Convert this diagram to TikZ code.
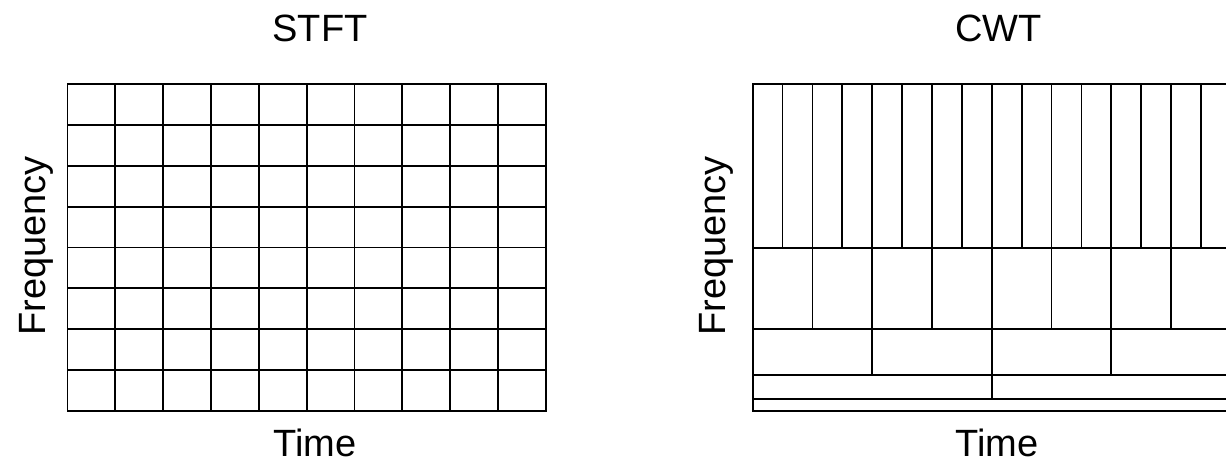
\documentclass[tikz,border=0pt]{standalone}
\usepackage{fontspec}
\setmainfont{Liberation Sans}
\usepackage{tikz}
\definecolor{ink}{HTML}{000000}

\begin{document}
\begin{tikzpicture}[x=1pt,y=1pt,
  cell/.style={ink,line width=1.8pt},
  lbl/.style={ink,font=\fontsize{38}{40}\selectfont,inner sep=0pt,anchor=base}]
  \useasboundingbox (0,0) rectangle (1226,463);
  \clip (0,0) rectangle (1226,463);
  % STFT: same window everywhere, 10 x 8 tiles
  \draw[cell] (67.5,52.3) rectangle (545.7,378.7);
  \foreach \i in {1,...,9}
    \draw[cell] (67.5+\i*47.82,52.3) -- (67.5+\i*47.82,378.7);
  \foreach \j in {1,...,7}
    \draw[cell] (67.5,52.3+\j*40.8) -- (545.7,52.3+\j*40.8);
  \node[lbl] (stft) at (320,421.3) {STFT};
  \node[lbl] (tleft) at (315,6.5) {Time};
  \node[lbl,rotate=90] (fleft) at (45,217) {Frequency};
  % CWT: tiles halve in width each band up (runs past the page edge)
  \draw[cell] (1240,378.7) -- (752.7,378.7) -- (752.7,52.3) -- (1240,52.3);
  \foreach \lo/\hi/\n in {214.7/378.7/16, 134.3/214.7/8, 88/134.3/4, 64/88/2, 52.3/64/1}{
    \draw[cell] (752.7,\lo) -- (1240,\lo);
    \foreach \k in {1,...,\n}
      \draw[cell] (752.7+\k*478.2/\n,\lo) -- (752.7+\k*478.2/\n,\hi);}
  \node[lbl] (cwt) at (998.8,421.3) {CWT};
  \node[lbl] (tright) at (997,6.5) {Time};
  \node[lbl,rotate=90] (fright) at (725,217) {Frequency};
\end{tikzpicture}
\end{document}
